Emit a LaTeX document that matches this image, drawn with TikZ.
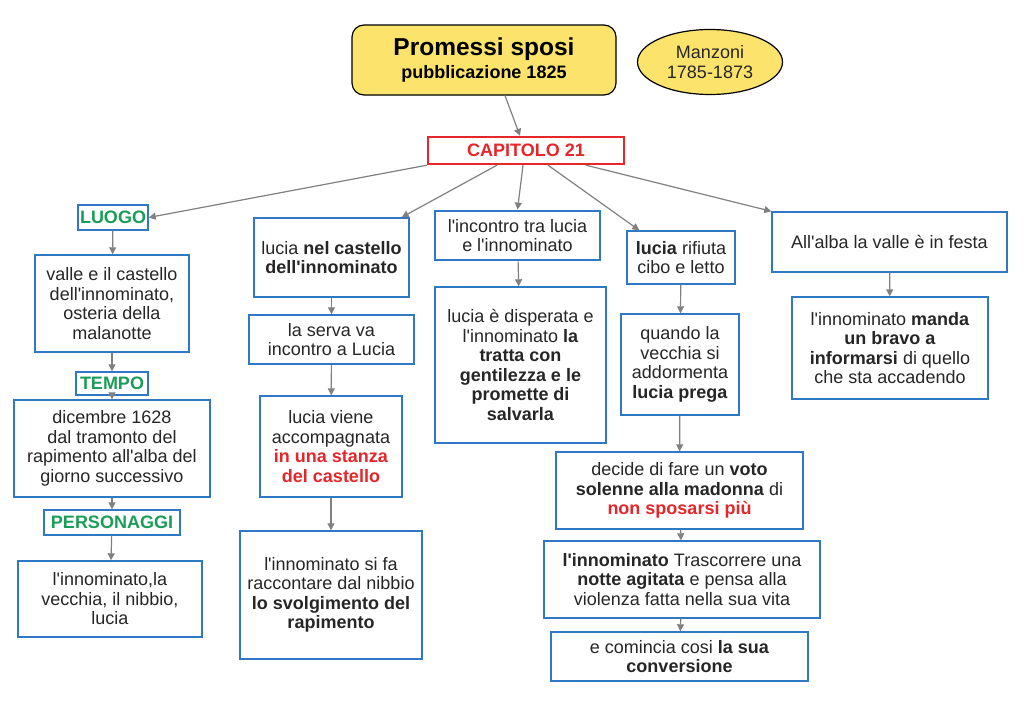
\documentclass[tikz,border=0pt]{standalone}
\usepackage{fontspec}
\setmainfont[Ligatures=TeXOff]{Liberation Sans}
\usetikzlibrary{arrows.meta,shapes.geometric}
\definecolor{mapblue}{HTML}{2F78C4}
\definecolor{mapgreen}{HTML}{1A9E57}
\definecolor{mapred}{HTML}{E5262A}
\definecolor{mapyellow}{HTML}{FCE46C}
\definecolor{mapgray}{HTML}{808080}
\definecolor{maptext}{HTML}{262626}

\begin{document}
\begin{tikzpicture}[x=1pt, y=-1pt,
  box/.style={draw=mapblue, line width=1.4pt, fill=white, align=center, text=maptext,
    font=\fontsize{18}{19.5}\selectfont, inner sep=2pt},
  tag/.style={box, text=mapgreen, font=\fontsize{18}{19.5}\selectfont\bfseries},
  conn/.style={->, color=mapgray, line width=1.2pt},
  >={Triangle[length=7pt,width=7pt]}
]
  \useasboundingbox (0,0) rectangle (1024,704);

  % top
  \node (title) [draw, rounded corners=12pt, fill=mapyellow, line width=1.2pt, minimum width=264pt, minimum height=70pt, align=center, text=black] at (484,60)
    {{\fontsize{24.5}{26}\selectfont\bfseries Promessi sposi}\\[3pt] {\fontsize{18}{19}\selectfont\bfseries pubblicazione 1825}};
  \node (autore) [ellipse, draw, fill=mapyellow, line width=1.2pt, minimum width=145pt, minimum height=65pt, align=center, text=maptext, font=\fontsize{18}{19.5}\selectfont] at (710,62)
    {Manzoni\\1785-1873};
  \node (cap) [draw=mapred, line width=2.4pt, fill=white, minimum width=196pt, minimum height=27pt, text=mapred, font=\fontsize{18}{19.5}\selectfont\bfseries] at (526,150.5)
    {CAPITOLO 21};

  % left column
  \node (luogo) [tag, minimum width=70pt, minimum height=25pt] at (113,217.5) {LUOGO};
  \node (valle) [box, minimum width=154pt, minimum height=97pt] at (112,303.5)
    {valle e il castello\\dell'innominato,\\osteria della\\malanotte};
  \node (tempo) [tag, minimum width=72pt, minimum height=23pt] at (112,383.5) {TEMPO};
  \node (dicembre) [box, minimum width=196pt, minimum height=97pt] at (112,448.5)
    {dicembre 1628\\dal tramonto del\\rapimento all'alba del\\giorno successivo};
  \node (personaggi) [tag, minimum width=136pt, minimum height=25pt] at (112,522.5) {PERSONAGGI};
  \node (elenco) [box, minimum width=184pt, minimum height=76pt] at (110,599)
    {l'innominato,la\\vecchia, il nibbio,\\lucia};

  % second column
  \node (castello) [box, minimum width=155pt, minimum height=79pt] at (331.5,257.5)
    {lucia \textbf{nel castello}\\\textbf{dell'innominato}};
  \node (serva) [box, minimum width=165pt, minimum height=49pt] at (331.5,339.5)
    {la serva va\\incontro a Lucia};
  \node (stanza) [box, minimum width=142pt, minimum height=101pt] at (331,446.5)
    {lucia viene\\accompagnata\\\textcolor{mapred}{\textbf{in una stanza}}\\\textcolor{mapred}{\textbf{del castello}}};
  \node (racconto) [box, minimum width=182pt, minimum height=128pt] at (331,595)
    {l'innominato si fa\\raccontare dal nibbio\\\textbf{lo svolgimento del}\\\textbf{rapimento}};

  % third column
  \node (incontro) [box, line width=2.8pt, minimum width=165pt, minimum height=49pt] at (517.5,235.5)
    {l'incontro tra lucia\\e l'innominato};
  \node (disperata) [box, minimum width=171pt, minimum height=156pt] at (520.5,365)
    {lucia è disperata e\\l'innominato \textbf{la}\\\textbf{tratta con}\\\textbf{gentilezza e le}\\\textbf{promette di}\\\textbf{salvarla}};

  % fourth column
  \node (rifiuta) [box, minimum width=108pt, minimum height=53pt] at (681,257.5)
    {\textbf{lucia} rifiuta\\cibo e letto};
  \node (vecchia) [box, minimum width=118pt, minimum height=101pt] at (680,364.5)
    {quando la\\vecchia si\\addormenta\\\textbf{lucia prega}};
  \node (voto) [box, minimum width=247pt, minimum height=77pt] at (679.5,490.5)
    {decide di fare un \textbf{voto}\\\textbf{solenne alla madonna} di\\\textcolor{mapred}{\textbf{non sposarsi più}}};
  \node (notte) [box, minimum width=276pt, minimum height=77pt] at (682,579.5)
    {\textbf{l'innominato} Trascorrere una\\\textbf{notte agitata} e pensa alla\\violenza fatta nella sua vita};
  \node (conversione) [box, minimum width=257pt, minimum height=49pt] at (679.5,656.5)
    {e comincia cosi \textbf{la sua}\\\textbf{conversione}};

  % fifth column
  \node (festa) [box, minimum width=235pt, minimum height=60pt] at (889.5,242)
    {All'alba la valle è in festa};
  \node (bravo) [box, minimum width=196pt, minimum height=102pt] at (890,348)
    {l'innominato \textbf{manda}\\\textbf{un bravo a}\\\textbf{informarsi} di quello\\che sta accadendo};

  \path[conn]
  ([xshift=21pt]title.south) edge ([xshift=-6pt]cap.north)
  (cap.south west) edge (luogo.east)
  ([xshift=-29pt]cap.south) edge ([xshift=-8pt]castello.north east)
  ([xshift=-3pt]cap.south) edge (incontro.north)
  ([xshift=22pt]cap.south) edge ([xshift=13pt]rifiuta.north west)
  ([xshift=60pt]cap.south) edge (festa.north west)
  ;
  \path[conn]
  (luogo) edge (valle)
  (valle) edge (tempo)
  (tempo) edge (dicembre)
  (dicembre) edge (personaggi)
  (personaggi) edge (elenco)
  (castello) edge (serva)
  (serva) edge (stanza)
  (stanza) edge (racconto)
  (incontro) edge (disperata)
  (rifiuta) edge (vecchia)
  (vecchia) edge (voto)
  (voto) edge (notte)
  (notte) edge (conversione)
  (festa) edge (bravo)
  ;
\end{tikzpicture}
\end{document}
